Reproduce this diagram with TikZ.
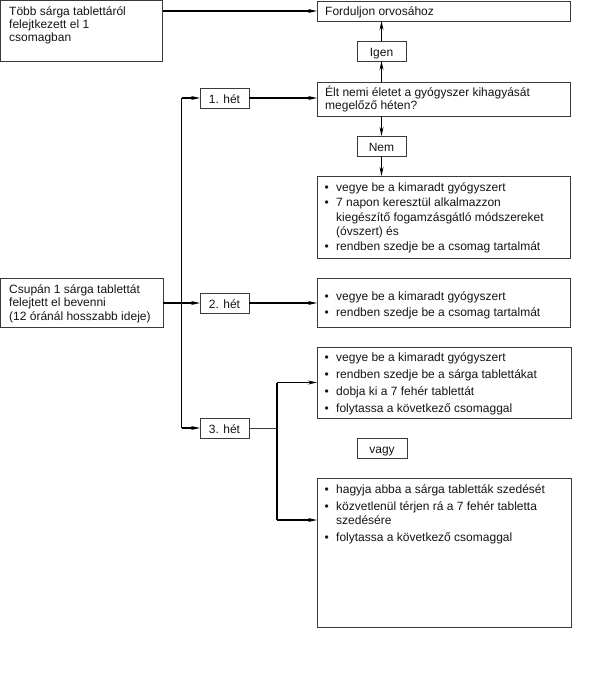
\documentclass[tikz,border=0pt]{standalone}
\usepackage{fontspec}
\setmainfont{Liberation Sans}
\usetikzlibrary{arrows.meta}
\definecolor{boxc}{HTML}{3A3A3A}
\definecolor{txtc}{HTML}{141414}
\newcommand\fnt{\fontsize{12}{13.2}\selectfont\lineskiplimit=-100pt}
\newcommand\fntb{\fontsize{12}{13.9}\selectfont\lineskiplimit=-100pt}
\newcommand\bfnt{\fontsize{12}{14.4}\selectfont\lineskiplimit=-100pt}
\newcommand\blk[3]{\begin{minipage}[t]{#1}#2\raggedright #3\end{minipage}}
\newcommand\itm[1]{\par\hangindent=11.5pt\hangafter=1\noindent\makebox[11.5pt][l]{\textbullet}#1\par}
\begin{document}
\begin{tikzpicture}[x=1pt,y=-1pt,
  box/.style={draw=boxc, line width=0.9pt, inner sep=0pt, outer sep=0pt, anchor=north west},
  small/.style={draw=boxc, line width=0.9pt, inner sep=0pt, outer sep=0pt, minimum width=49pt, minimum height=20pt, text height=10pt, text depth=0pt, font=\fnt, text=txtc},
  txt/.style={anchor=base west, inner sep=0pt, text=txtc},
  conn/.style={line width=1.3pt, draw=black},
  arr/.style={conn, -{Stealth[length=9pt,width=4pt]}}]
\useasboundingbox (0,0) rectangle (600,689);
% boxes
\node[box, minimum width=162pt, minimum height=60.5pt] (tobb) at (0.5,0.5) {};
\node[txt] (tobbt) at (9,15) {\blk{150pt}{\fnt}{Több sárga tablettáról\\felejtkezett el 1\\csomagban}};
\node[box, minimum width=253pt, minimum height=20pt] (ford) at (317,1) {};
\node[txt, font=\fnt] (fordt) at (325,15) {Forduljon orvosához};
\node[small] (igen) at (381.5,51) {Igen};
\node[box, minimum width=253pt, minimum height=34pt] (elt) at (317,82) {};
\node[txt] (eltt) at (325,96.5) {\blk{240pt}{\fnt}{Élt nemi életet a gyógyszer kihagyását\\megelőző héten?}};
\node[small] (nem) at (381.5,146) {Nem};
\node[box, minimum width=253pt, minimum height=82pt] (b1) at (317,176) {};
\node[txt] (b1t) at (324.5,191.7) {\blk{245pt}{\bfnt\setlength{\parskip}{0.6pt}}{\itm{vegye be a kimaradt gyógyszert}\itm{7 napon keresztül alkalmazzon\newline kiegészítő fogamzásgátló módszereket\newline (óvszert) és}\itm{rendben szedje be a csomag tartalmát}}};
\node[small] (h1) at (224.5,98) {1. hét};
\node[box, minimum width=162.5pt, minimum height=49pt] (csup) at (0.5,278) {};
\node[txt] (csupt) at (9,293) {\blk{150pt}{\fntb}{Csupán 1 sárga tablettát\\felejtett el bevenni\\(12 óránál hosszabb ideje)}};
\node[small] (h2) at (224.5,303) {2. hét};
\node[box, minimum width=253pt, minimum height=49pt] (b2) at (317,278) {};
\node[txt] (b2t) at (324.5,300.3) {\blk{245pt}{\bfnt\setlength{\parskip}{1.3pt}}{\itm{vegye be a kimaradt gyógyszert}\itm{rendben szedje be a csomag tartalmát}}};
\node[small] (h3) at (224.5,428) {3. hét};
\node[box, minimum width=254pt, minimum height=71pt] (b3a) at (317,347) {};
\node[txt] (b3at) at (324.5,361.5) {\blk{245pt}{\bfnt\setlength{\parskip}{2.6pt}}{\itm{vegye be a kimaradt gyógyszert}\itm{rendben szedje be a sárga tablettákat}\itm{dobja ki a 7 fehér tablettát}\itm{folytassa a következő csomaggal}}};
\node[small, minimum width=50pt] (vagy) at (382,448) {vagy};
\node[box, minimum width=254pt, minimum height=149pt] (b3b) at (317,478) {};
\node[txt] (b3bt) at (324.5,493.5) {\blk{245pt}{\bfnt\setlength{\parskip}{2.2pt}}{\itm{hagyja abba a sárga tabletták szedését}\itm{közvetlenül térjen rá a 7 fehér tabletta\newline szedésére}\itm{folytassa a következő csomaggal}}};
% junction coordinates
\coordinate (tr) at (181.7,0);
\coordinate (sp) at (277,0);
\coordinate (j3b) at (277,520);
% connectors
\draw[arr] (ford.west -| tobb.east) -- (ford.west);
\draw[arr] (igen.south |- elt.north) -- (igen.south);
\draw[arr] (igen.north) -- (igen.north |- ford.south);
\draw[arr] (nem.north |- elt.south) -- (nem.north);
\draw[arr] (nem.south) -- (nem.south |- b1.north);
\draw[conn] (tr |- h1.west) -- (tr |- h3.west);
\draw[arr] (tr |- h1.west) -- (h1.west);
\draw[arr] (tr |- h3.west) -- (h3.west);
\draw[arr] (csup.east |- h2.west) -- (h2.west);
\draw[arr] (h1.east) -- (h1.east -| elt.west);
\draw[arr] (h2.east) -- (h2.east -| b2.west);
\draw[line width=0.9pt, draw=boxc] (h3.east) -- (sp |- h3.east);
\draw[conn] (sp |- b3a.west) -- (j3b);
\draw[arr] (sp |- b3a.west) -- (b3a.west);
\draw[arr] (j3b) -- (j3b -| b3b.west);
\end{tikzpicture}
\end{document}
